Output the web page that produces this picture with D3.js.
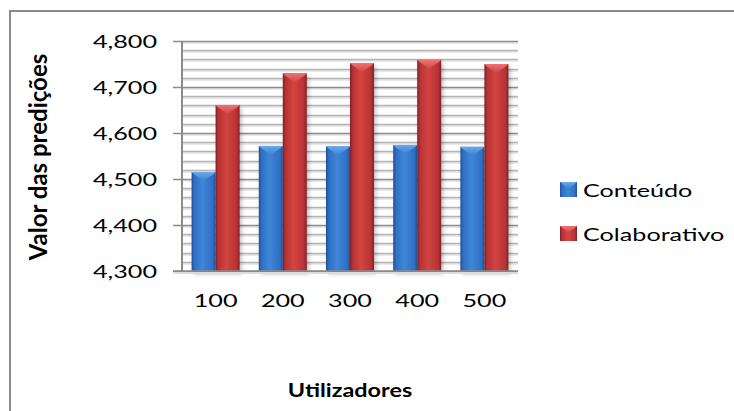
<!DOCTYPE html>
<html>
<head>
<meta charset="utf-8">
<script src="https://cdn.jsdelivr.net/npm/d3@7"></script>
<style>
  html, body { margin: 0; padding: 0; background: #fff; }
  svg { display: block; }
  text { font-family: Lato, "Open Sans", sans-serif; fill: #000; }
</style>
</head>
<body>
<svg id="chart" width="734" height="411"></svg>
<script>
// Prediction values per number of users
const categories = ["100", "200", "300", "400", "500"];
const seriesNames = ["Conteúdo", "Colaborativo"];
const conteudo = [4.515, 4.572, 4.571, 4.574, 4.570];
const colaborativo = [4.661, 4.730, 4.752, 4.759, 4.750];
const yTicks = [4.3, 4.4, 4.5, 4.6, 4.7, 4.8];
const yTitle = "Valor das predições";
const xTitle = "Utilizadores";

const svg = d3.select("#chart");
const SX = 1.4; // horizontal text stretch

const margin = { left: 182, right: 518, top: 41, bottom: 271 };

const x0 = d3.scaleBand().domain(categories)
  .range([margin.left, margin.right])
  .paddingInner(0.2857).paddingOuter(0.1429);
const x1 = d3.scaleBand().domain(seriesNames).range([0, x0.bandwidth()]);
const y = d3.scaleLinear().domain([4.3, 4.8]).range([margin.bottom, margin.top]);

const defs = svg.append("defs");

// outer frame
svg.append("rect").attr("x", 10).attr("y", 11)
  .attr("width", 740).attr("height", 420)
  .attr("fill", "none").attr("stroke", "#8a8a8a").attr("stroke-width", 2);

// gridlines (minor every 0.02, major every 0.1)
const minor = d3.range(0, 26).map(i => 4.3 + i * 0.02);
const grid = svg.append("g");
minor.forEach(v => {
  const isMajor = Math.abs((v - 4.3) / 0.1 - Math.round((v - 4.3) / 0.1)) < 1e-6;
  const yy = Math.round(y(v)) + 0.5;
  grid.append("line").attr("x1", margin.left).attr("x2", margin.right)
    .attr("y1", yy + 1.5).attr("y2", yy + 1.5)
    .attr("stroke", "#e2e2e2").attr("stroke-width", 1.5);
  grid.append("line").attr("x1", isMajor ? margin.left - 9 : margin.left).attr("x2", margin.right)
    .attr("y1", yy).attr("y2", yy)
    .attr("stroke", isMajor ? "#8c8c8c" : "#b4b4b4").attr("stroke-width", isMajor ? 1.6 : 1.3);
});

// y axis line
svg.append("line").attr("x1", margin.left).attr("x2", margin.left)
  .attr("y1", margin.top).attr("y2", margin.bottom)
  .attr("stroke", "#8c8c8c").attr("stroke-width", 2);

// bar gradients
const palettes = {
  "Conteúdo": { dark: "#1f4f94", mid: "#2f6fc4", light: "#3f86d8", top: "#6aa9ec", topDark: "#3d7fd0" },
  "Colaborativo": { dark: "#7e2024", mid: "#b83236", light: "#d2443f", top: "#ee7474", topDark: "#cf4444" }
};
seriesNames.forEach((s, i) => {
  const p = palettes[s];
  const g = defs.append("linearGradient").attr("id", "side" + i)
    .attr("x1", 0).attr("x2", 1).attr("y1", 0).attr("y2", 0);
  g.append("stop").attr("offset", 0).attr("stop-color", p.dark);
  g.append("stop").attr("offset", 0.12).attr("stop-color", p.mid);
  g.append("stop").attr("offset", 0.45).attr("stop-color", p.light);
  g.append("stop").attr("offset", 0.88).attr("stop-color", p.mid);
  g.append("stop").attr("offset", 1).attr("stop-color", p.dark);
  const t = defs.append("linearGradient").attr("id", "top" + i)
    .attr("x1", 0).attr("x2", 0).attr("y1", 0).attr("y2", 1);
  t.append("stop").attr("offset", 0).attr("stop-color", p.top);
  t.append("stop").attr("offset", 1).attr("stop-color", p.topDark);
});
const blur = defs.append("filter").attr("id", "shadow")
  .attr("x", "-50%").attr("y", "-50%").attr("width", "200%").attr("height", "200%");
blur.append("feGaussianBlur").attr("stdDeviation", 2);

const rows = categories.map((c, i) => ({ cat: c, vals: [conteudo[i], colaborativo[i]] }));

const bars = svg.append("g");
// soft shadows behind the bars
rows.forEach(r => {
  r.vals.forEach((v, si) => {
    const bx = x0(r.cat) + x1(seriesNames[si]);
    const bw = x1.bandwidth();
    bars.append("rect").attr("x", bx + 2).attr("y", y(v) + 3)
      .attr("width", bw).attr("height", y(4.3) - y(v))
      .attr("fill", "#000").attr("opacity", 0.25).attr("filter", "url(#shadow)");
  });
});
rows.forEach(r => {
  r.vals.forEach((v, si) => {
    const bx = x0(r.cat) + x1(seriesNames[si]);
    const bw = x1.bandwidth();
    const top = y(v), base = y(4.3);
    bars.append("rect").attr("x", bx).attr("y", top)
      .attr("width", bw).attr("height", base - top)
      .attr("fill", `url(#side${si})`);
    const bev = Math.min(9, base - top);
    bars.append("path")
      .attr("d", `M${bx},${top}L${bx + bw},${top}L${bx + bw - 2},${top + 2}L${bx + bw / 2},${top + bev}L${bx + 2},${top + 2}Z`)
      .attr("fill", `url(#top${si})`);
  });
});

// baseline
svg.append("line").attr("x1", margin.left - 9).attr("x2", margin.right)
  .attr("y1", margin.bottom + 2).attr("y2", margin.bottom + 2)
  .attr("stroke", "#dcdcdc").attr("stroke-width", 2);
svg.append("line").attr("x1", margin.left - 9).attr("x2", margin.right)
  .attr("y1", margin.bottom).attr("y2", margin.bottom)
  .attr("stroke", "#8c8c8c").attr("stroke-width", 1.6);

// text helper with horizontal stretch
function label(x, yy, str, anchor, opts = {}) {
  const sx = opts.sx || SX;
  return svg.append("text")
    .attr("transform", `translate(${x},${yy}) scale(${sx},1)` + (opts.rotate ? ` rotate(${opts.rotate})` : ""))
    .attr("text-anchor", anchor)
    .attr("dominant-baseline", "central")
    .style("font-size", (opts.size || 18) + "px")
    .style("font-weight", opts.bold ? 700 : 400)
    .text(str);
}

// tick format: 4.8 -> "4,800"
const fmt = d3.format(".3f");
yTicks.forEach(v => label(157, y(v), fmt(v).replace(".", ","), "end"));

categories.forEach(c => label(x0(c) + x0.bandwidth() / 2, 300, c, "middle"));

label(350, 390, xTitle, "middle", { bold: true, size: 18, sx: 1.3 });
label(37, 157, yTitle, "middle", { bold: true, size: 24, sx: 1, rotate: -90 });

// legend
seriesNames.forEach((s, i) => {
  const ly = 190 + i * 44;
  svg.append("rect").attr("x", 560).attr("y", ly - 8).attr("width", 17).attr("height", 15)
    .attr("fill", `url(#side${i})`);
  svg.append("path")
    .attr("d", `M560,${ly - 8}L577,${ly - 8}L568.5,${ly - 1}Z`)
    .attr("fill", `url(#top${i})`);
  label(583, ly, s, "start");
});
</script>
</body>
</html>
